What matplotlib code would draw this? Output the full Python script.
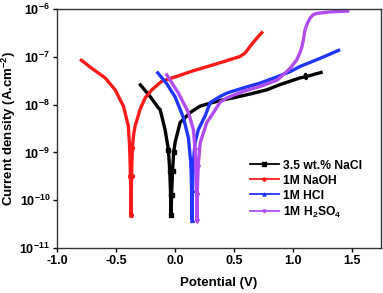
import numpy as np
import matplotlib
matplotlib.use('Agg')
import matplotlib.pyplot as plt
from matplotlib.lines import Line2D
from matplotlib.ticker import LogLocator, NullLocator

plt.rcParams['font.family'] = 'Liberation Sans'
plt.rcParams['font.weight'] = 'bold'
plt.rcParams['mathtext.fontset'] = 'custom'
plt.rcParams['mathtext.rm'] = 'Liberation Sans:bold'
plt.rcParams['mathtext.it'] = 'Liberation Sans:bold'
plt.rcParams['mathtext.bf'] = 'Liberation Sans:bold'

# potentials (V) and current densities (A/cm2)
nacl_E = [-0.303, -0.212, -0.142, -0.127, -0.085, -0.057, -0.045, -0.038, -0.034,
          -0.030, -0.022, -0.012, 0.000, 0.042, 0.127, 0.212, 0.297, 0.40, 0.49,
          0.65, 0.777, 0.89, 1.06, 1.10, 1.105, 1.11, 1.116, 1.25]
nacl_I = [2.75e-8, 1.48e-8, 8.6e-9, 7.9e-9, 3.0e-9, 1.15e-9, 4.0e-10, 1.3e-10, 4.9e-11,
          1.3e-10, 4.0e-10, 1.0e-9, 1.62e-9, 4.2e-9, 6.8e-9, 9.3e-9, 1.07e-8, 1.25e-8, 1.38e-8,
          1.7e-8, 2.04e-8, 2.63e-8, 3.63e-8, 3.8e-8, 4.3e-8, 3.5e-8, 3.9e-8, 4.8e-8]

naoh_E = [-0.805, -0.706, -0.593, -0.508, -0.438, -0.396, -0.385, -0.378, -0.373,
          -0.369, -0.362, -0.350, -0.339, -0.297, -0.254, -0.197, -0.113, 0.014,
          0.153, 0.297, 0.438, 0.551, 0.593, 0.636, 0.692, 0.743]
naoh_I = [8.9e-8, 5.75e-8, 3.63e-8, 2.04e-8, 9.3e-9, 3.55e-9, 1.26e-9, 3.2e-10, 4.9e-11,
          3.2e-10, 1.26e-9, 2.5e-9, 3.55e-9, 7.9e-9, 1.38e-8, 2.04e-8, 3.09e-8, 3.9e-8,
          5.1e-8, 6.5e-8, 8.3e-8, 1.02e-7, 1.2e-7, 1.66e-7, 2.45e-7, 3.4e-7]

hcl_E = [-0.156, -0.071, 0.000, 0.070, 0.113, 0.134, 0.140, 0.143, 0.147, 0.153,
         0.169, 0.197, 0.254, 0.297, 0.381, 0.438, 0.579, 0.720, 0.862, 0.975,
         1.059, 1.229, 1.398]
hcl_I = [4.9e-8, 2.75e-8, 1.45e-8, 5.4e-9, 2.0e-9, 5.6e-10, 1.6e-10, 3.9e-11, 1.6e-10, 5.6e-10,
         1.6e-9, 3.0e-9, 5.8e-9, 1.1e-8, 1.48e-8, 1.74e-8, 2.24e-8, 2.82e-8, 3.8e-8, 4.9e-8,
         6.3e-8, 9.3e-8, 1.41e-7]

h2so4_E = [-0.079, 0.028, 0.113, 0.155, 0.169, 0.178, 0.182, 0.184, 0.187, 0.195,
           0.212, 0.268, 0.325, 0.381, 0.438, 0.579, 0.720, 0.862, 0.890, 0.975,
           1.031, 1.060, 1.074, 1.090, 1.100, 1.120, 1.144, 1.170, 1.200, 1.314, 1.477]
h2so4_I = [4.5e-8, 1.74e-8, 6.8e-9, 3.0e-9, 1.15e-9, 4.0e-10, 1.3e-10, 3.7e-11, 1.3e-10, 5.0e-10,
           1.58e-9, 4.2e-9, 6.8e-9, 1.12e-8, 1.38e-8, 1.9e-8, 2.4e-8, 3.24e-8, 3.7e-8, 5.75e-8,
           8.7e-8, 1.26e-7, 1.62e-7, 2.5e-7, 3.63e-7, 5.0e-7, 6.5e-7, 7.6e-7, 8.1e-7, 8.7e-7, 9.1e-7]

labels = ['3.5 wt.% NaCl', '1M NaOH', '1M HCl', '1M H$_2$SO$_4$']
colors = ['#000000', '#ff1a1a', '#2035ff', '#b04cf0']
markers = ['s', 'o', '^', 'v']

fig = plt.figure(figsize=(3.83, 2.93), dpi=100)
ax = fig.add_axes([0.149, 0.1536, 0.846, 0.8156])

series = [(nacl_E, nacl_I), (naoh_E, naoh_I), (hcl_E, hcl_I), (h2so4_E, h2so4_I)]
handles = []
for (E, I), c, m, lab in zip(series, colors, markers, labels):
    I = np.array(I)
    ax.plot(E, I, color=c, lw=2.4, solid_capstyle='butt', solid_joinstyle='round')
    # markers only show up in the sparse region near the corrosion potential
    ax.plot(E, I, ls='none', color=c, marker=m, ms=2.8, markevery=list(I < 1.3e-9))
    handles.append(Line2D([], [], color=c, lw=1.3, marker=m, ms=2.2, label=lab))

ax.set_yscale('log')
ax.set_xlim(-1.0, 1.745)
ax.set_ylim(1e-11, 1e-6)
ax.set_xticks([-1.0, -0.5, 0.0, 0.5, 1.0, 1.5])
ax.set_xticklabels(['-1.0', '-0.5', '0.0', '0.5', '1.0', '1.5'])
ax.yaxis.set_major_locator(LogLocator(base=10, numticks=10))
ax.yaxis.set_minor_locator(NullLocator())
ax.tick_params(direction='out', length=3, width=1, labelsize=9, pad=2)
for s in ax.spines.values():
    s.set_linewidth(1.0)
    s.set_color('#333333')

ax.set_xlabel('Potential (V)', fontsize=9.5, fontweight='bold', labelpad=7)
ax.set_ylabel('Current density (A.cm$^{-2}$)', fontsize=9.5, fontweight='bold', labelpad=1)

ax.legend(handles=handles, loc='upper left', bbox_to_anchor=(0.58, 0.39),
          frameon=False, fontsize=8.7, handlelength=2.4, handletextpad=0.35,
          labelspacing=0.25, borderaxespad=0)

fig.savefig('out.png', dpi=100)
